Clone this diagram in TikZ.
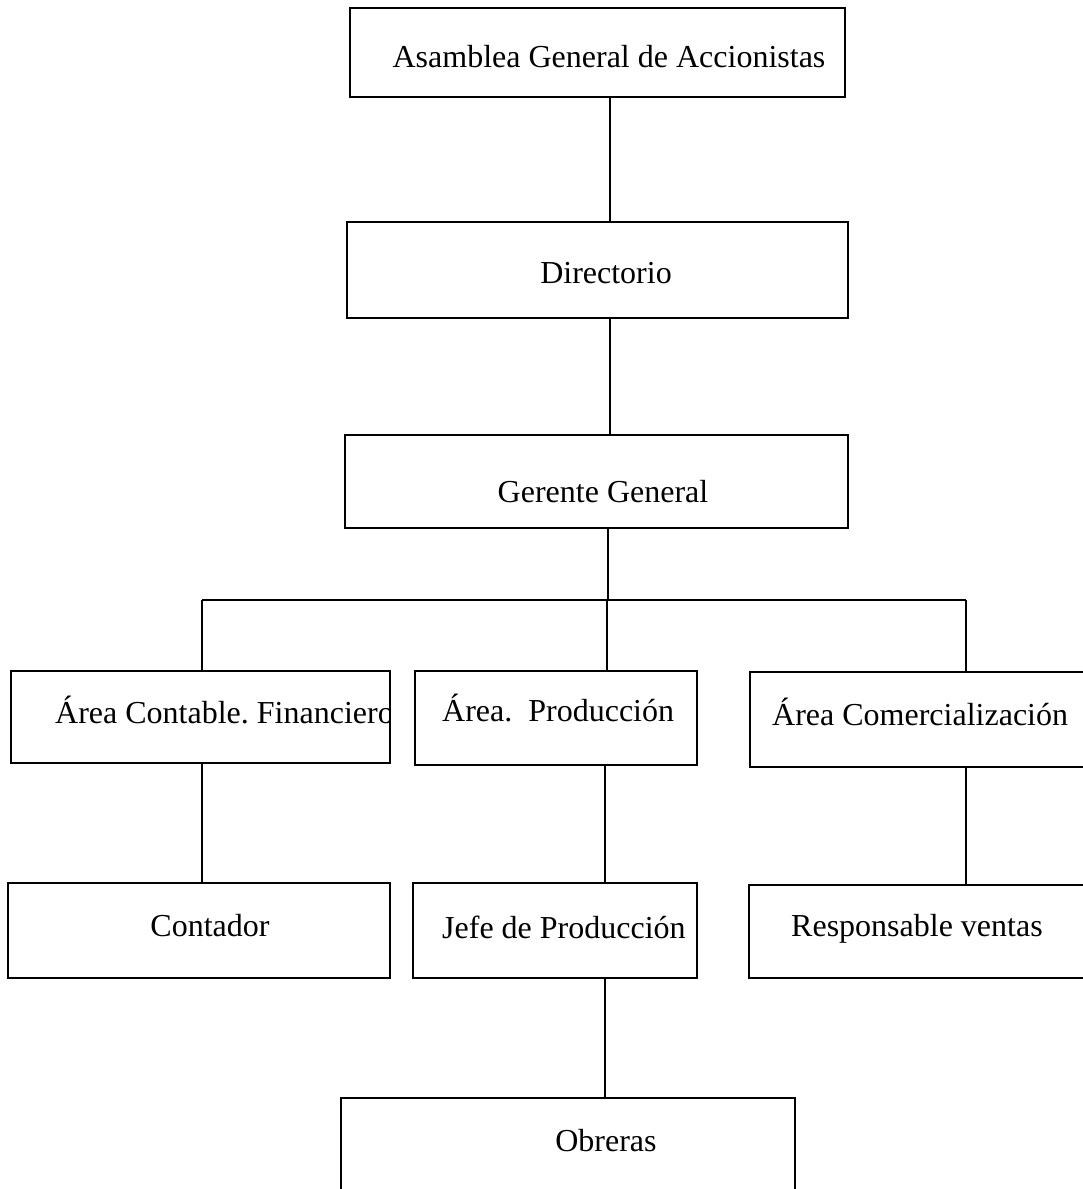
\documentclass[tikz,border=0pt]{standalone}
\usepackage{fontspec}
\setmainfont{Liberation Serif}
\frenchspacing
\begin{document}
\begin{tikzpicture}[x=1pt,y=-1pt,
  box/.style={draw=black,line width=1.8pt,rectangle,inner sep=0pt,fill=none},
  lbl/.style={inner sep=0pt,font=\fontsize{32}{38}\selectfont},
  conn/.style={draw=black,line width=1.8pt}]
\useasboundingbox[fill=white] (0,0) rectangle (1083,1189);
% boxes: centers and sizes
\node[box,minimum width=495pt,minimum height=89pt] (asam) at (597.5,52.5) {};
\node[box,minimum width=501pt,minimum height=96pt] (dir) at (597.5,270) {};
\node[box,minimum width=503pt,minimum height=93pt] (ger) at (596.5,481.5) {};
\node[box,minimum width=379pt,minimum height=92pt] (acf) at (200.5,717) {};
\node[box,minimum width=282pt,minimum height=94pt] (apr) at (556,718) {};
\node[box,minimum width=345pt,minimum height=95pt] (aco) at (922.5,719.5) {};
\node[box,minimum width=382pt,minimum height=95pt] (cont) at (199,930.5) {};
\node[box,minimum width=284pt,minimum height=95pt] (jefe) at (555,930.5) {};
\node[box,minimum width=346pt,minimum height=93pt] (resp) at (922,931.5) {};
\node[box,minimum width=454pt,minimum height=110pt] (obr) at (568,1153) {};
% labels
\node[lbl] (tasam) at (609,57) {Asamblea General de Accionistas};
\node[lbl] (tdir) at (606,273) {Directorio};
\node[lbl] (tger) at (603,492) {Gerente General};
\begin{scope}
\clip (11,671) rectangle (389,763);
\node[lbl,anchor=west] (tacf) at (55,710) {Área Contable. Financiero};
\end{scope}
\node[lbl,anchor=west] (tapr) at (442,708) {Área.\ \ Producción};
\node[lbl,anchor=west] (taco) at (772,712) {Área Comercialización};
\node[lbl] (tcont) at (210,926) {Contador};
\node[lbl,anchor=west] (tjefe) at (442,927) {Jefe de Producción};
\node[lbl,anchor=west] (tresp) at (791,929) {Responsable ventas};
\node[lbl] (tobr) at (606,1141) {Obreras};
% connector coordinates
\coordinate (xa) at (610,0);
\coordinate (xb) at (608,0);
\coordinate (xl) at (202,0);
\coordinate (xc) at (607,0);
\coordinate (xr) at (966,0);
\coordinate (xp) at (605,0);
\coordinate (hy) at (0,600);
% connectors
\draw[conn] (asam.south -| xa) -- (dir.north -| xa);
\draw[conn] (dir.south -| xa) -- (ger.north -| xa);
\draw[conn] (ger.south -| xb) -- (hy -| xb);
\draw[conn] (hy -| xl) -- (hy -| xr);
\draw[conn] (hy -| xl) -- (acf.north -| xl);
\draw[conn] (hy -| xc) -- (apr.north -| xc);
\draw[conn] (hy -| xr) -- (aco.north -| xr);
\draw[conn] (acf.south -| xl) -- (cont.north -| xl);
\draw[conn] (apr.south -| xp) -- (jefe.north -| xp);
\draw[conn] (aco.south -| xr) -- (resp.north -| xr);
\draw[conn] (jefe.south -| xp) -- (obr.north -| xp);
\end{tikzpicture}
\end{document}
